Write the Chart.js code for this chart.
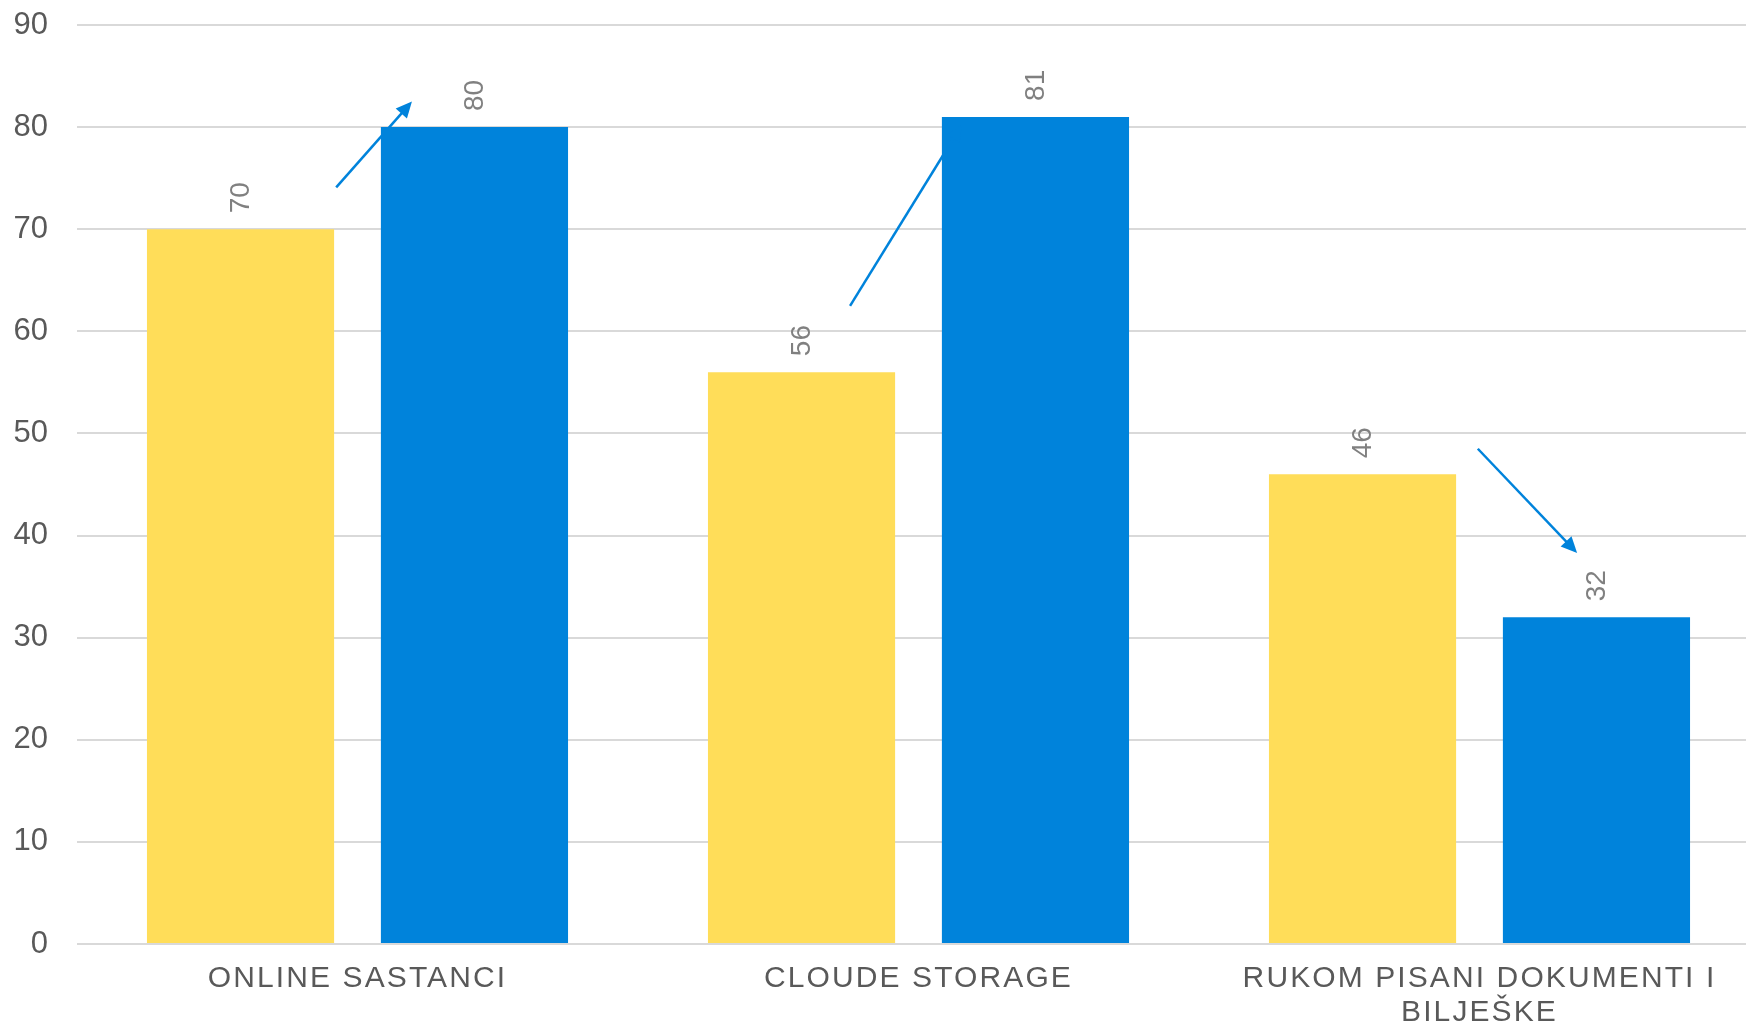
<!DOCTYPE html>
<html>
<head>
<meta charset="utf-8">
<script src="https://cdn.jsdelivr.net/npm/chart.js@4"></script>
<style>
  html, body { margin: 0; padding: 0; background: #fff; overflow: hidden; }
  #wrap { width: 1760px; height: 1025px; position: relative; }
</style>
</head>
<body>
<div id="wrap"><canvas id="chart"></canvas></div>
<script>
// data
const categories = ["ONLINE SASTANCI", "CLOUDE STORAGE", ["RUKOM PISANI DOKUMENTI I", "BILJEŠKE"]];
const before = [70, 56, 46];
const after = [80, 81, 32];
const yTicks = [0, 10, 20, 30, 40, 50, 60, 70, 80, 90];

// arrows: category index, [offset within category, value] for start and tip
const arrows = [
  { cat: 0, from: [-0.038, 74.1], to: [0.097, 82.5] },
  { cat: 1, from: [-0.122, 62.5], to: [0.077, 80.2] },
  { cat: 2, from: [-0.003, 48.5], to: [0.174, 38.3] }
];

const YELLOW = "#FFDD59";
const BLUE = "#0083DB";
const FONT = "'Liberation Sans', Arial, sans-serif";

function drawArrow(ctx, x1, y1, x2, y2) {
  const a = Math.atan2(y2 - y1, x2 - x1);
  const head = 16, half = 7.5;
  const bx = x2 - head * Math.cos(a), by = y2 - head * Math.sin(a);
  ctx.beginPath(); ctx.moveTo(x1, y1); ctx.lineTo(bx + 2 * Math.cos(a), by + 2 * Math.sin(a)); ctx.stroke();
  ctx.beginPath();
  ctx.moveTo(x2, y2);
  ctx.lineTo(bx - half * Math.sin(a), by + half * Math.cos(a));
  ctx.lineTo(bx + half * Math.sin(a), by - half * Math.cos(a));
  ctx.closePath(); ctx.fill();
}

const extras = {
  id: "extras",
  beforeDraw(chart) {
    const xs = chart.scales.x;
    if (xs && !xs._spaced) {
      const orig = xs.drawLabels;
      xs.drawLabels = function (area) {
        const ctx = this.ctx;
        ctx.save(); ctx.letterSpacing = "2.1px";
        orig.call(this, area);
        ctx.restore();
      };
      xs._spaced = true;
    }
  },
  afterDatasetsDraw(chart) {
    const ctx = chart.ctx;
    // rotated value labels
    ctx.save();
    ctx.font = "28px " + FONT;
    ctx.fillStyle = "#808080";
    ctx.textAlign = "left";
    ctx.textBaseline = "middle";
    chart.data.datasets.forEach((ds, di) => {
      chart.getDatasetMeta(di).data.forEach((bar, i) => {
        ctx.save();
        ctx.translate(bar.x + 1, bar.y - 16);
        ctx.rotate(-Math.PI / 2);
        ctx.fillText(String(ds.data[i]), 0, 0);
        ctx.restore();
      });
    });
    ctx.restore();
    // arrows
    const xs = chart.scales.x, ys = chart.scales.y;
    ctx.save();
    ctx.strokeStyle = BLUE; ctx.fillStyle = BLUE; ctx.lineWidth = 2.5;
    arrows.forEach(a => {
      drawArrow(ctx,
        xs.getPixelForValue(a.cat + a.from[0]), ys.getPixelForValue(a.from[1]),
        xs.getPixelForValue(a.cat + a.to[0]), ys.getPixelForValue(a.to[1]));
    });
    ctx.restore();
  }
};

new Chart(document.getElementById("chart"), {
  type: "bar",
  data: {
    labels: categories,
    datasets: [
      { data: before, backgroundColor: YELLOW, categoryPercentage: 0.834, barPercentage: 0.8 },
      { data: after, backgroundColor: BLUE, categoryPercentage: 0.834, barPercentage: 0.8 }
    ]
  },
  options: {
    responsive: true,
    maintainAspectRatio: false,
    animation: false,
    layout: { padding: { top: 25, left: 0, right: 0, bottom: 0 } },
    plugins: { legend: { display: false }, tooltip: { enabled: false } },
    scales: {
      x: {
        afterFit: s => { s.height = 81; },
        grid: { display: false, drawTicks: false },
        border: { display: false },
        ticks: { color: "#595959", font: { family: FONT, size: 30, lineHeight: 1.13 }, padding: 18, maxRotation: 0, autoSkip: false }
      },
      y: {
        min: 0, max: 90,
        afterBuildTicks: s => { s.ticks = yTicks.map(v => ({ value: v })); },
        afterFit: s => { s.width = 77; s.paddingTop = 0; s.paddingBottom = 0; },
        grid: { color: "#D9D9D9", lineWidth: 2, drawTicks: false },
        border: { display: false },
        ticks: { color: "#595959", font: { family: FONT, size: 31 }, padding: 29 }
      }
    }
  },
  plugins: [extras]
});
</script>
</body>
</html>
